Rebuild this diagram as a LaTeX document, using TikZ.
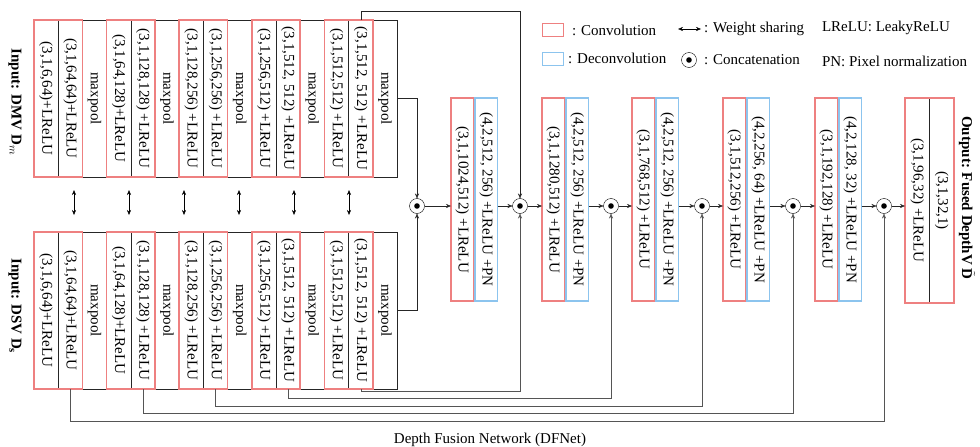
\documentclass[tikz,border=0pt]{standalone}
\usepackage{fontspec}
\setmainfont{Liberation Serif}
\usetikzlibrary{arrows.meta}
\definecolor{convred}{RGB}{238,128,128}
\definecolor{deconvblue}{RGB}{140,196,238}
\definecolor{skipgray}{RGB}{85,85,85}
\newcommand{\vtext}[1]{\rotatebox{-90}{#1}}
\begin{document}
\begin{tikzpicture}
[x=1pt, y=-1pt, nodes={font=\fontsize{15}{18}\selectfont, inner sep=0pt, outer sep=0pt},
 >={Stealth[length=5pt, width=4pt]}, thin, draw=black!85,
 enccol/.style={draw=black!85, minimum width=24.2pt, minimum height=157pt, anchor=north west},
 deccol/.style={draw=#1, line width=1.6pt, minimum width=22.5pt, minimum height=203pt, anchor=north west},
 convbox/.style={draw=convred, line width=1.6pt},
 concat/.style={circle, draw=black, minimum size=15pt,
   path picture={\fill (path picture bounding box.center) circle (2.8pt);}},
 skip/.style={draw=skipgray, ->}]
\useasboundingbox (0,0) rectangle (980,447);

% two encoders, same layers
\foreach \row/\y in {t/20, b/232} {
  \foreach \lbl [count=\i from 0] in {{(3,1,6,64)+LReLU}, {(3,1,64,64)+LReLU}, maxpool,
      {(3,1,64,128)+LReLU}, {(3,1,128,128) +LReLU}, maxpool,
      {(3,1,128,256) +LReLU}, {(3,1,256,256) +LReLU}, maxpool,
      {(3,1,256,512) +LReLU}, {(3,1,512, 512) +LReLU}, maxpool,
      {(3,1,512,512) +LReLU}, {(3,1,512, 512) +LReLU}, maxpool} {
    \pgfmathtruncatemacro{\n}{\i+1}
    \node[enccol] (\row\n) at (34+24.2*\i,\y) {\vtext{\lbl}};
  }
  \foreach \k [evaluate=\k as \m using int(\k+1)] in {1,4,7,10,13}
    \draw[convbox] (\row\k.north west) rectangle (\row\m.south east);
}

\node (inDMV) at (15,102) {\vtext{\textbf{Input: DMV D$_{m}$}}};
\node (inDSV) at (15,306) {\vtext{\textbf{Input: DSV D\textsubscript{s}}}};

% weight sharing
\foreach \x [count=\j] in {74,129,184,239,294,349} {
  \coordinate (wsa\j) at (\x,190);
  \coordinate (wsb\j) at (\x,215);
  \draw[<->, black] (wsa\j) -- (wsb\j);
}

% decoder
\node[deccol=convred] (d1c) at (451,98) {\vtext{(3,1,1024,512) +LReLU}};
\node[deccol=deconvblue] (d1d) at (475,98) {\vtext{(4,2,512, 256) +LReLU +PN}};
\node[deccol=convred] (d2c) at (542,98) {\vtext{(3,1,1280,512) +LReLU}};
\node[deccol=deconvblue] (d2d) at (566,98) {\vtext{(4,2,512, 256) +LReLU +PN}};
\node[deccol=convred] (d3c) at (632,98) {\vtext{(3,1,768,512) +LReLU}};
\node[deccol=deconvblue] (d3d) at (656,98) {\vtext{(4,2,512, 256) +LReLU +PN}};
\node[deccol=convred] (d4c) at (723,98) {\vtext{(3,1,512,256) +LReLU}};
\node[deccol=deconvblue] (d4d) at (747,98) {\vtext{(4,2,256, 64) +LReLU +PN}};
\node[deccol=convred] (d5c) at (815,98) {\vtext{(3,1,192,128) +LReLU}};
\node[deccol=deconvblue] (d5d) at (839,98) {\vtext{(4,2,128, 32) +LReLU +PN}};
\node[draw=black!85, minimum width=24.5pt, minimum height=205pt, anchor=north west] (o1) at (905,98) {\vtext{(3,1,96,32) +LReLU}};
\node[draw=black!85, minimum width=24.5pt, minimum height=205pt, anchor=north west] (o2) at (929.5,98) {\vtext{(3,1,32,1)}};
\draw[convbox] (o1.north west) rectangle (o2.south east);
\node (out) at (967,198) {\vtext{\textbf{Output: Fused DepthV $\tilde{\mathbf{D}}$}}};

\node[concat] (c1) at (417,206) {};
\node[concat] (c2) at (520,206) {};
\node[concat] (c3) at (611,206) {};
\node[concat] (c4) at (702,206) {};
\node[concat] (c5) at (793,206) {};
\node[concat] (c6) at (884,206) {};

\draw[->] (t15.east) -| (c1.north);
\draw[->] (b15.east) -| (c1.south);
\draw[->] (c1.east) -- (c1.east -| d1c.west);
\draw[->] (d1d.east |- c2) -- (c2.west);
\draw[->] (c2.east) -- (c2.east -| d2c.west);
\draw[->] (d2d.east |- c3) -- (c3.west);
\draw[->] (c3.east) -- (c3.east -| d3c.west);
\draw[->] (d3d.east |- c4) -- (c4.west);
\draw[->] (c4.east) -- (c4.east -| d4c.west);
\draw[->] (d4d.east |- c5) -- (c5.west);
\draw[->] (c5.east) -- (c5.east -| d5c.west);
\draw[->] (d5d.east |- c6) -- (c6.west);
\draw[->] (c6.east) -- (c6.east -| o1.west);

% skip connections
\draw[->] (t14.north) -- (t14.north |- 0,11) -| (c2.north);
\draw[skip] (b14.south) -- (b14.south |- 0,391) -| (c2.south);
\draw[skip] (b11.south) -- (b11.south |- 0,398) -| (c3.south);
\draw[skip] (b8.south) -- (b8.south |- 0,406) -| (c4.south);
\draw[skip] (b5.south) -- (b5.south |- 0,413) -| (c5.south);
\draw[skip] (b2.south) -- (b2.south |- 0,421) -| (c6.south);

% legend
\node[convbox, minimum width=21pt, minimum height=13pt] (legconv) at (553,30) {};
\node[anchor=west] (legconvtxt) at (572,30) {: Convolution};
\node[draw=deconvblue, line width=1.6pt, minimum width=21pt, minimum height=13pt] (legdeconv) at (553,59) {};
\node[anchor=west] (legdeconvtxt) at (568,58) {: Deconvolution};
\coordinate (legwsa) at (678,29);
\coordinate (legwsb) at (701,29);
\draw[<->, black] (legwsa) -- (legwsb);
\node[anchor=west] (legwstxt) at (704,29) {: Weight sharing};
\node[concat] (legcat) at (689,60) {};
\node[anchor=west] (legcattxt) at (704,60) {: Concatenation};
\node[anchor=west] (leglrelu) at (822,28) {LReLU: LeakyReLU};
\node[anchor=west] (legpn) at (822,61) {PN: Pixel normalization};

\node (caption) at (490,440) {Depth Fusion Network (DFNet)};
\end{tikzpicture}
\end{document}
